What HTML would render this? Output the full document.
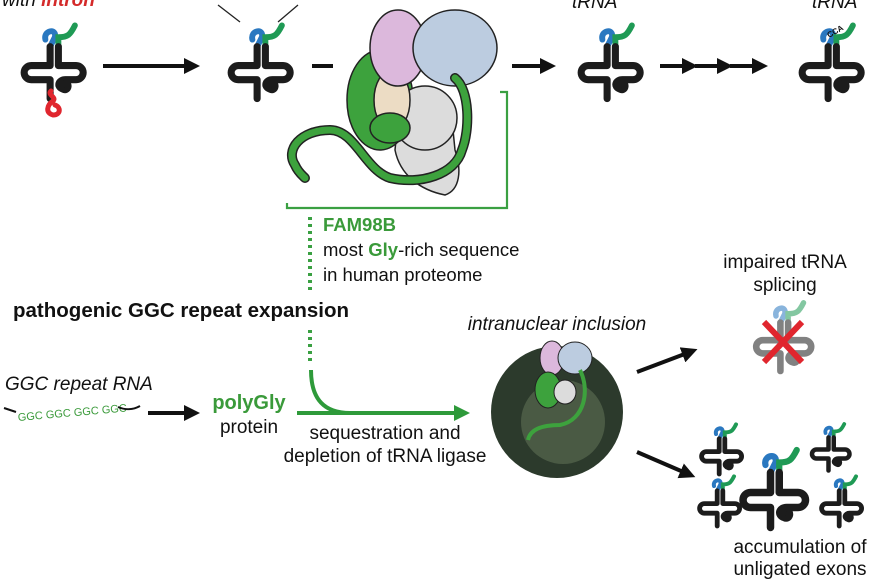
<!DOCTYPE html>
<html><head><meta charset="utf-8"><style>
html,body{margin:0;padding:0;background:#fff;}
svg{display:block;}
text{font-family:"Liberation Sans",sans-serif;}
</style></head><body>
<svg width="870" height="580" viewBox="0 0 870 580" xmlns="http://www.w3.org/2000/svg">
<defs>
<marker id="ah" markerWidth="4" markerHeight="4" refX="2" refY="2" orient="auto" markerUnits="strokeWidth"><path d="M0,0 L4,2 L0,4 z" fill="#111"/></marker>
<marker id="gh" markerWidth="4" markerHeight="4" refX="2" refY="2" orient="auto" markerUnits="strokeWidth"><path d="M0,0 L4,2 L0,4 z" fill="#2e9a3a"/></marker>
<g id="trna">
  <path d="M30 20 c-2 -8 10 -10 8 -2 L34 26" fill="none" stroke="#2a78c0" stroke-width="5" stroke-linecap="round"/>
  <path d="M41 26 V18 c8 0 10 -2 14 -10" fill="none" stroke="#1f9a55" stroke-width="5" stroke-linecap="round"/>
  <path d="M34 26 V42 H18 a6 6 0 1 0 0 12 H34 V70" fill="none" stroke="#1c1c1c" stroke-width="6" stroke-linecap="round" stroke-linejoin="round"/>
  <path d="M41 26 V42 H56 a6 6 0 1 1 0 12 H47 c-6 0 -8 6 -2 8 c4 2 6 -4 2 -6" fill="none" stroke="#1c1c1c" stroke-width="6" stroke-linecap="round" stroke-linejoin="round"/>
  <circle cx="43" cy="58" r="4" fill="#1c1c1c"/>
</g>
</defs>

<text x="2" y="6" font-size="19" font-style="italic" fill="#111">with <tspan fill="#d42a2a" font-weight="bold">intron</tspan></text>
<text x="572" y="8" font-size="19" font-style="italic" fill="#111">tRNA</text>
<text x="812" y="8" font-size="19" font-style="italic" fill="#111">tRNA</text>
<line x1="218" y1="5" x2="240" y2="22" stroke="#222" stroke-width="1.3"/>
<line x1="298" y1="5" x2="278" y2="22" stroke="#222" stroke-width="1.3"/>

<use href="#trna" transform="translate(10 16) scale(1.18)"/>
<path d="M51 91 c-4 4 6 6 2 10 c-6 4 -8 12 0 14 c8 0 8 -8 2 -10" fill="none" stroke="#e0262e" stroke-width="5" stroke-linecap="round"/>
<use href="#trna" transform="translate(217 16) scale(1.18)"/>
<use href="#trna" transform="translate(567 16) scale(1.18)"/>
<use href="#trna" transform="translate(788 16) scale(1.18)"/>
<text x="829" y="38" font-size="8" font-weight="bold" fill="#111" transform="rotate(-30 829 38)">CCA</text>

<line x1="103" y1="66" x2="192" y2="66" stroke="#111" stroke-width="4" marker-end="url(#ah)"/>
<line x1="312" y1="66" x2="333" y2="66" stroke="#111" stroke-width="4"/>
<line x1="512" y1="66" x2="548" y2="66" stroke="#111" stroke-width="4" marker-end="url(#ah)"/>
<line x1="660" y1="66" x2="690" y2="66" stroke="#111" stroke-width="4" marker-end="url(#ah)"/>
<line x1="695" y1="66" x2="725" y2="66" stroke="#111" stroke-width="4" marker-end="url(#ah)"/>
<line x1="730" y1="66" x2="760" y2="66" stroke="#111" stroke-width="4" marker-end="url(#ah)"/>

<g stroke="#222" stroke-width="1.5">
  <path d="M395 150 C400 175 420 190 445 195 C460 190 462 170 455 150 L450 100 L400 100 Z" fill="#dcdcdc"/>
  <ellipse cx="380" cy="100" rx="33" ry="50" fill="#3da23d"/>
  <ellipse cx="425" cy="118" rx="32" ry="32" fill="#dcdcdc"/>
  <ellipse cx="392" cy="100" rx="18" ry="30" fill="#ecdcc4"/>
  <ellipse cx="398" cy="48" rx="28" ry="38" fill="#dcb8dc"/>
  <ellipse cx="455" cy="48" rx="42" ry="38" fill="#bccce0"/>
  <ellipse cx="390" cy="128" rx="20" ry="15" fill="#3da23d"/>
</g>
<path d="M455 78 C470 90 470 130 462 150 C455 175 420 185 390 178 C365 170 355 130 330 130 C300 130 285 150 295 165 C298 172 302 175 305 178" fill="none" stroke="#222" stroke-width="10" stroke-linecap="round"/>
<path d="M455 78 C470 90 470 130 462 150 C455 175 420 185 390 178 C365 170 355 130 330 130 C300 130 285 150 295 165 C298 172 302 175 305 178" fill="none" stroke="#3da23d" stroke-width="7" stroke-linecap="round"/>

<path d="M287 203 V208 H507 V92 H500" fill="none" stroke="#3aa042" stroke-width="2.2"/>
<line x1="310" y1="217" x2="310" y2="290" stroke="#3aa042" stroke-width="4" stroke-dasharray="3,4"/>
<line x1="310" y1="330" x2="310" y2="362" stroke="#3aa042" stroke-width="4" stroke-dasharray="3,4"/>
<path d="M311 370 C311 400 325 413 350 413" fill="none" stroke="#2e9a3a" stroke-width="4"/>
<line x1="297" y1="413" x2="462" y2="413" stroke="#2e9a3a" stroke-width="4" marker-end="url(#gh)"/>

<text x="323" y="231" font-size="18.5" font-weight="bold" fill="#3a9a3a">FAM98B</text>
<text x="323" y="256" font-size="18.5" fill="#111">most <tspan fill="#3a9a3a" font-weight="bold">Gly</tspan>-rich sequence</text>
<text x="323" y="281" font-size="18.5" fill="#111">in human proteome</text>
<text x="13" y="317" font-size="20.5" font-weight="bold" fill="#111">pathogenic GGC repeat expansion</text>

<text x="5" y="390" font-size="19" font-style="italic" fill="#111">GGC repeat RNA</text>
<path d="M4 408 L16 412" stroke="#111" stroke-width="2"/>
<text x="18" y="421" font-size="11" fill="#3a9a3a" transform="rotate(-5 18 420)">GGC GGC GGC GGC</text>
<path d="M118 407 C125 410 133 410 140 406" fill="none" stroke="#111" stroke-width="2"/>
<line x1="148" y1="413" x2="192" y2="413" stroke="#111" stroke-width="4" marker-end="url(#ah)"/>
<text x="249" y="409" font-size="20" font-weight="bold" fill="#3a9a3a" text-anchor="middle">polyGly</text>
<text x="249" y="433" font-size="19" fill="#111" text-anchor="middle">protein</text>
<text x="385" y="439" font-size="19" fill="#111" text-anchor="middle">sequestration and</text>
<text x="385" y="462" font-size="19" fill="#111" text-anchor="middle">depletion of tRNA ligase</text>

<text x="557" y="330" font-size="19" font-style="italic" fill="#111" text-anchor="middle">intranuclear inclusion</text>
<circle cx="557" cy="412" r="66" fill="#2c3a2c"/>
<circle cx="563" cy="422" r="42" fill="#4a5a44"/>
<g stroke="#222" stroke-width="1">
<ellipse cx="552" cy="358" rx="12" ry="17" fill="#dcb8dc"/>
<ellipse cx="575" cy="358" rx="17" ry="16" fill="#bccce0"/>
<ellipse cx="548" cy="390" rx="13" ry="18" fill="#3da23d"/>
<ellipse cx="565" cy="392" rx="11" ry="12" fill="#dcdcdc"/>
</g>
<path d="M580 370 C590 390 585 420 560 425 C540 425 530 430 528 440" fill="none" stroke="#3da23d" stroke-width="4"/>

<line x1="637" y1="372" x2="690" y2="352" stroke="#111" stroke-width="4" marker-end="url(#ah)"/>
<line x1="637" y1="452" x2="688" y2="474" stroke="#111" stroke-width="4" marker-end="url(#ah)"/>

<text x="785" y="268" font-size="19" fill="#111" text-anchor="middle">impaired tRNA</text>
<text x="785" y="291" font-size="19" fill="#111" text-anchor="middle">splicing</text>
<g opacity="0.55"><use href="#trna" transform="translate(743 294) scale(1.1)"/></g>
<path d="M764 322 L802 362 M802 322 L764 362" stroke="#e0262e" stroke-width="6"/>

<use href="#trna" transform="translate(692 418) scale(0.8)"/>
<use href="#trna" transform="translate(728 440) scale(1.25)"/>
<use href="#trna" transform="translate(803 418) scale(0.75)"/>
<use href="#trna" transform="translate(690 470) scale(0.8)"/>
<use href="#trna" transform="translate(812 470) scale(0.8)"/>
<text x="800" y="553" font-size="19" fill="#111" text-anchor="middle">accumulation of</text>
<text x="800" y="575" font-size="19" fill="#111" text-anchor="middle">unligated exons</text>
</svg>
</body></html>
